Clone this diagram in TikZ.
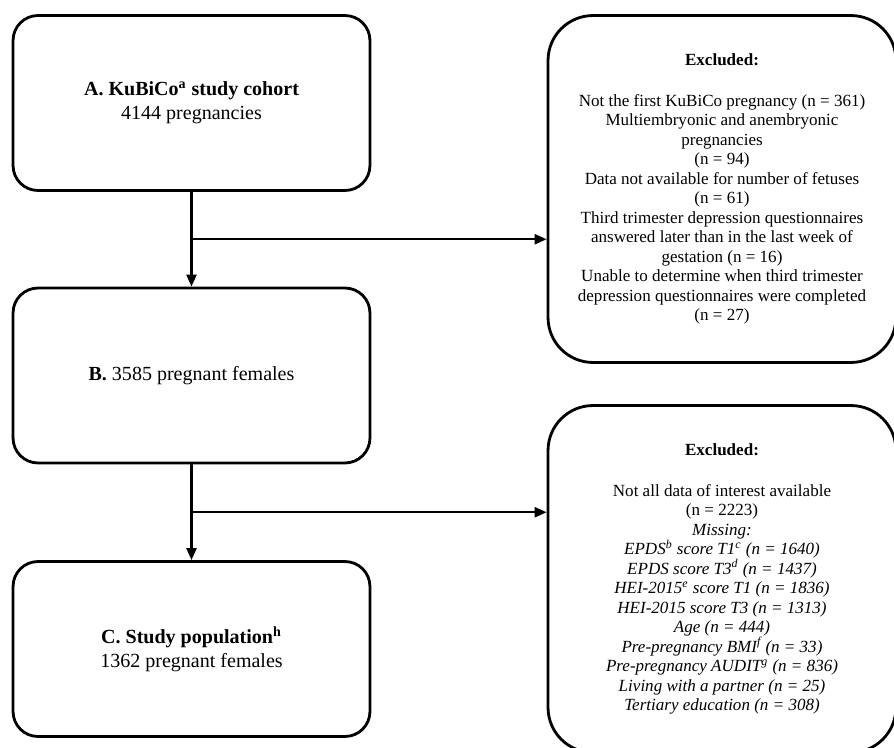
\documentclass[tikz,border=0pt]{standalone}
\usepackage{fontspec}
\setmainfont{Liberation Serif}
\usetikzlibrary{positioning, arrows.meta, calc}

\begin{document}
\begin{tikzpicture}[
  x=0.02cm, y=-0.02cm,
  stage/.style={rectangle, draw, line width=1.6pt, rounded corners=0.5cm, minimum width=7.14cm, minimum height=3.5cm, align=center, font=\fontsize{11.4}{13.7}\selectfont},
  excl/.style={rectangle, draw, line width=1.6pt, rounded corners=0.9cm, minimum width=6.96cm, minimum height=6.94cm, align=center, font=\fontsize{9.7}{11.1}\selectfont},
  arr/.style={-{Triangle[length=0.24cm, width=0.2cm]}, line width=1.4pt}
]
  \useasboundingbox (0,0) rectangle (894,748);

  \node[stage] (cohort) at (191.5,103) {\textbf{A. KuBiCo\textsuperscript{a} study cohort}\\4144 pregnancies};
  \node[stage] (females) at (191.5,375.5) {\textbf{B.} 3585 pregnant females};
  \node[stage] (population) at (191.5,649) {\textbf{C. Study population\textsuperscript{h}}\\1362 pregnant females};

  \node[excl] (exclA) at (722,189) {\textbf{Excluded:}\\[12pt]
    Not the first KuBiCo pregnancy (n = 361)\\
    Multiembryonic and anembryonic\\
    pregnancies\\
    (n = 94)\\
    Data not available for number of fetuses\\
    (n = 61)\\
    Third trimester depression questionnaires\\
    answered later than in the last week of\\
    gestation (n = 16)\\
    Unable to determine when third trimester\\
    depression questionnaires were completed\\
    (n = 27)};
  \node[excl] (exclB) at (722,579) {\textbf{Excluded:}\\[12pt]
    Not all data of interest available\\
    (n = 2223)\\
    \textit{Missing:}\\
    \textit{EPDS\textsuperscript{b} score T1\textsuperscript{c} (n = 1640)}\\
    \textit{EPDS score T3\textsuperscript{d} (n = 1437)}\\
    \textit{HEI-2015\textsuperscript{e} score T1 (n = 1836)}\\
    \textit{HEI-2015 score T3 (n = 1313)}\\
    \textit{Age (n = 444)}\\
    \textit{Pre-pregnancy BMI\textsuperscript{f} (n = 33)}\\
    \textit{Pre-pregnancy AUDIT\textsuperscript{g} (n = 836)}\\
    \textit{Living with a partner (n = 25)}\\
    \textit{Tertiary education (n = 308)}};

  % flow with exclusions
  \coordinate (splitA) at ($(cohort.south)!0.5!(females.north)$);
  \coordinate (splitB) at ($(females.south)!0.5!(population.north)$);
  \draw[arr] (cohort) -- (females);
  \draw[arr] (splitA) -- (splitA -| exclA.west);
  \draw[arr] (females) -- (population);
  \draw[arr] (splitB) -- (splitB -| exclB.west);
\end{tikzpicture}
\end{document}
